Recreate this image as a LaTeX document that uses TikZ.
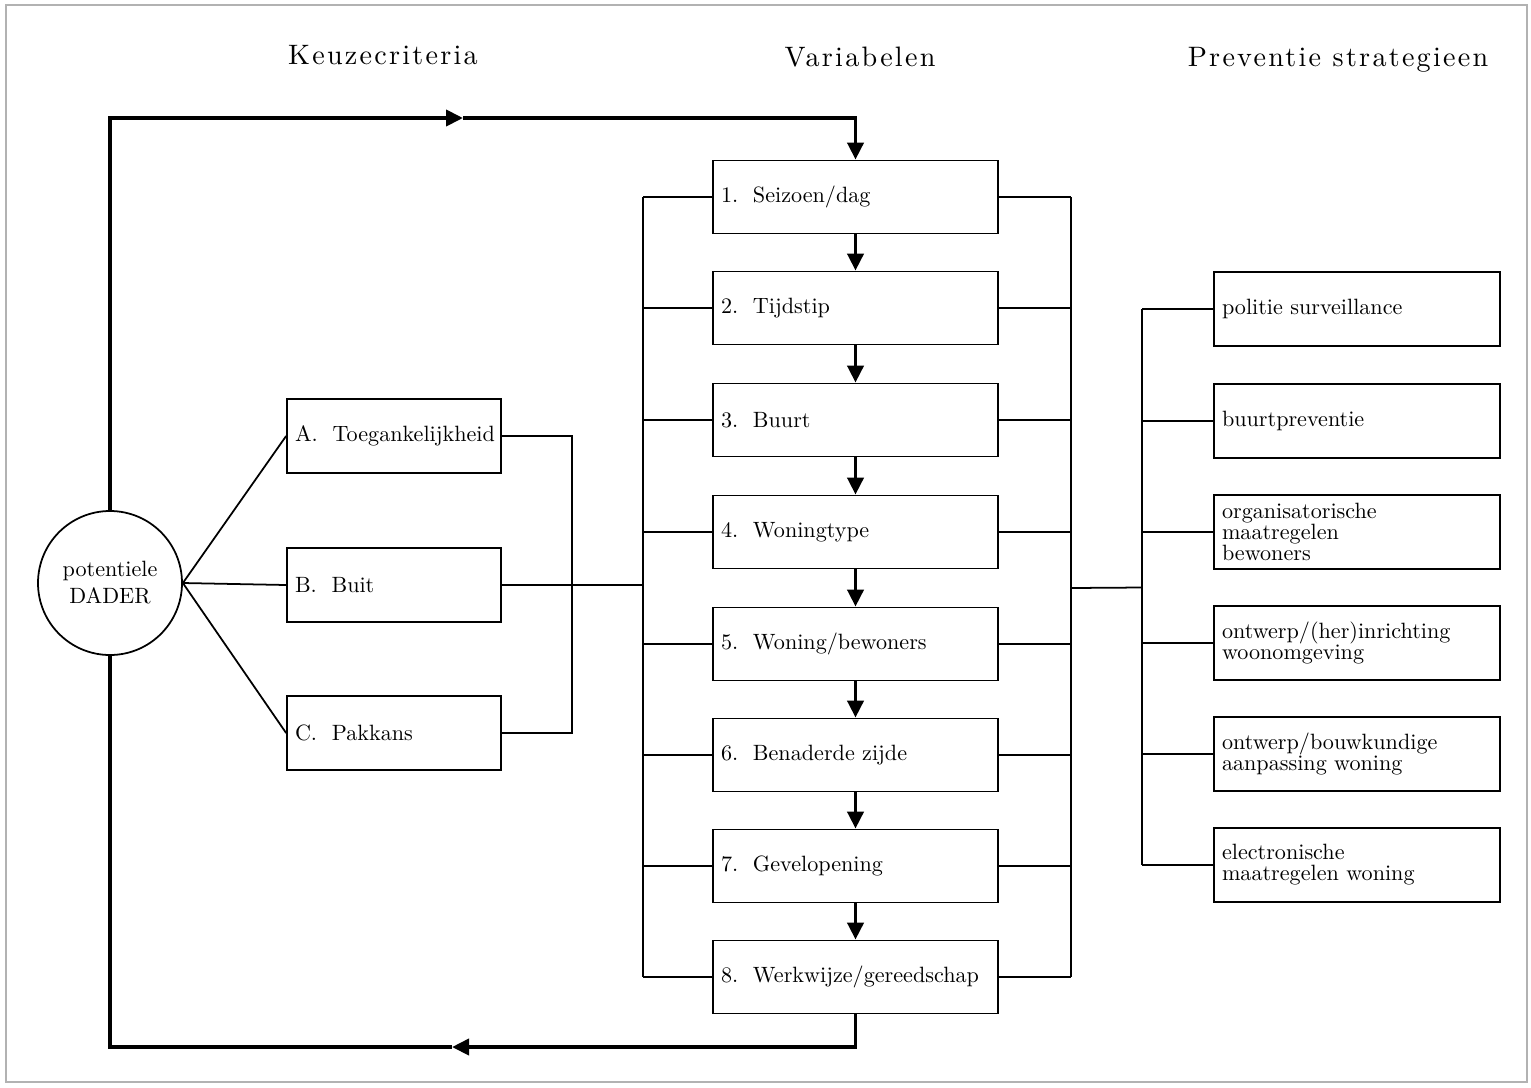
\documentclass[tikz,border=0pt]{standalone}
\usepackage{fontspec}
\usepackage{tikz}
\usetikzlibrary{
  arrows.meta,
  calc,
  positioning
}
\newfontfamily\lmten{lmroman10-regular.otf}
\newfontfamily\lmhead{lmroman10-regular.otf}[LetterSpace=8]
\newcommand{\bodyfont}{\lmten\fontsize{6.3}{6}\selectfont\hyphenpenalty=10000 }
\newcommand{\headfont}{\lmhead\fontsize{8}{9}\selectfont}
\tikzset{
  crit/.style={
    draw,
    rectangle,
    line width=0.5pt,
    minimum width=2.14cm,
    minimum height=0.74cm,
    text width=1.98cm,
    inner xsep=0.08cm,
    inner ysep=1pt,
    align=left,
    font=\bodyfont},
  var/.style={crit, minimum width=2.85cm, text width=2.69cm, minimum height=0.73cm},
  prev/.style={crit, minimum width=2.86cm, text width=2.70cm},
  head/.style={font=\headfont},
  link/.style={line width=0.5pt},
  flow/.style={line width=1.1pt, -{Triangle[length=0.17cm, width=0.16cm]}},
  loopline/.style={line width=1.1pt}
  }

\begin{document}
\begin{tikzpicture}
    \useasboundingbox (0,0) rectangle (15.31,10.87);
    \draw [gray!60, line width=0.4pt] (0.06,0.05) rectangle (15.27,10.82);
    % column heads
    \node [head] (kc) at (3.83,10.32) {Keuzecriteria};
    \node [head] (vb) at (8.60,10.30) {Variabelen};
    \node [head] (ps) at (13.38,10.27) {Preventie strategieen};
    % the offender
    \node [draw, circle, line width=0.5pt, minimum size=1.44cm, inner sep=0pt, align=center,
      font=\lmten\fontsize{6.3}{7.7}\selectfont] (dader) at (1.10,5.04) {potentiele\\DADER};
    % criteria
    \node [crit] (a) at (3.94,6.51) {A.~~Toegankelijkheid};
    \node [crit] (b) at (3.94,5.02) {B.~~Buit};
    \node [crit] (c) at (3.94,3.54) {C.~~Pakkans};
    % variables
    \node [var] (v1) at (8.555,8.90) {1.~~Seizoen/dag};
    \node [var] (v2) at (8.555,7.79) {2.~~Tijdstip};
    \node [var] (v3) at (8.555,6.67) {3.~~Buurt};
    \node [var] (v4) at (8.555,5.55) {4.~~Woningtype};
    \node [var] (v5) at (8.555,4.43) {5.~~Woning/bewoners};
    \node [var] (v6) at (8.555,3.32) {6.~~Benaderde zijde};
    \node [var] (v7) at (8.555,2.21) {7.~~Gevelopening};
    \node [var] (v8) at (8.555,1.10) {8.~~Werkwijze/gereedschap};
    % strategies
    \node [prev] (p1) at (13.57,7.78) {politie surveillance};
    \node [prev] (p2) at (13.57,6.66) {buurtpreventie};
    \node [prev] (p3) at (13.57,5.55) {organisatorische\\maatregelen\\bewoners};
    \node [prev] (p4) at (13.57,4.44) {ontwerp/(her)inrichting\\woonomgeving};
    \node [prev] (p5) at (13.57,3.33) {ontwerp/bouwkundige\\aanpassing woning};
    \node [prev] (p6) at (13.57,2.22) {electronische\\maatregelen woning};
    % bus lines and loop corners
    \coordinate (ab) at (5.72,0);
    \coordinate (lb) at (6.43,0);
    \coordinate (rb) at (10.71,0);
    \coordinate (pb) at (11.42,0);
    \coordinate (ta) at (4.63,9.69);
    \coordinate (tb) at (4.52,0.40);
    \draw [link]
    (dader.east) edge (a.west)
    (dader.east) edge (b.west)
    (dader.east) edge (c.west);
    \draw [link] (a.east) -- (a.east -| ab) |- (c.east);
    \draw [link] (b.east) -- (b.east -| lb);
    \draw [link] (v1.west -| lb) -- (v8.west -| lb);
    \draw [link] (v1.east -| rb) -- (v8.east -| rb);
    \draw [link]
    (v1.west) edge (v1.west -| lb)
    (v2.west) edge (v2.west -| lb)
    (v3.west) edge (v3.west -| lb)
    (v4.west) edge (v4.west -| lb)
    (v5.west) edge (v5.west -| lb)
    (v6.west) edge (v6.west -| lb)
    (v7.west) edge (v7.west -| lb)
    (v8.west) edge (v8.west -| lb)
    (v1.east) edge (v1.east -| rb)
    (v2.east) edge (v2.east -| rb)
    (v3.east) edge (v3.east -| rb)
    (v4.east) edge (v4.east -| rb)
    (v5.east) edge (v5.east -| rb)
    (v6.east) edge (v6.east -| rb)
    (v7.east) edge (v7.east -| rb)
    (v8.east) edge (v8.east -| rb);
    \draw [link] ($(v4.east -| rb)!0.5!(v5.east -| rb)$) -- ($(p3.west -| pb)!0.5!(p4.west -| pb)$);
    \draw [link] (p1.west -| pb) -- (p6.west -| pb);
    \draw [link]
    (p1.west) edge (p1.west -| pb)
    (p2.west) edge (p2.west -| pb)
    (p3.west) edge (p3.west -| pb)
    (p4.west) edge (p4.west -| pb)
    (p5.west) edge (p5.west -| pb)
    (p6.west) edge (p6.west -| pb);
    % the flow down the variables
    \draw [flow]
    (v1) edge (v2)
    (v2) edge (v3)
    (v3) edge (v4)
    (v4) edge (v5)
    (v5) edge (v6)
    (v6) edge (v7)
    (v7) edge (v8);
    % feedback loop
    \draw [flow] (dader.north) |- (ta);
    \draw [flow] (ta) -| (v1.north);
    \draw [flow] (v8.south) |- (tb);
    \draw [loopline] (tb) -| (dader.south);
  \end{tikzpicture}
\end{document}
